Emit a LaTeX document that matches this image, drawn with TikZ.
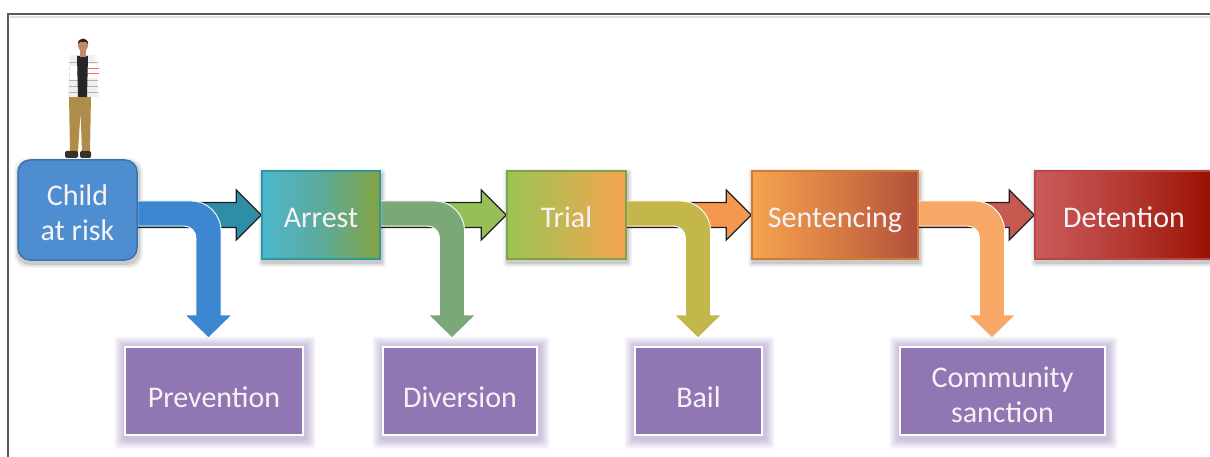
\documentclass[tikz,border=0pt]{standalone}
\usepackage{fontspec}
\setmainfont{Carlito}
\usetikzlibrary{calc}
\pgfdeclarelayer{bg}
\pgfdeclarelayer{arr}
\pgfsetlayers{bg,arr,main}
\definecolor{childfill}{HTML}{4E8DCF}
\definecolor{childedge}{HTML}{3B72B0}
\definecolor{txt}{HTML}{F6F2F6}
\definecolor{purp}{HTML}{9077B3}
\definecolor{glow}{HTML}{B9A9D3}
\definecolor{frame}{HTML}{5A5A5A}
\definecolor{darkedge}{HTML}{1E2020}
\definecolor{sA}{HTML}{2E8EA6}
\definecolor{sB}{HTML}{97BF57}
\definecolor{sC}{HTML}{F4984F}
\definecolor{sD}{HTML}{C65A50}
\definecolor{cA}{HTML}{3D86D0}
\definecolor{cB}{HTML}{7BA879}
\definecolor{cC}{HTML}{C3B74C}
\definecolor{cD}{HTML}{F8A866}
\definecolor{arL}{HTML}{4DB7CE}
\definecolor{arM}{HTML}{5CAA9C}
\definecolor{arR}{HTML}{84A33F}
\definecolor{arE}{HTML}{2D979D}
\definecolor{trL}{HTML}{9CC355}
\definecolor{trM}{HTML}{C8B552}
\definecolor{trR}{HTML}{F5A24F}
\definecolor{trE}{HTML}{7FA24A}
\definecolor{seL}{HTML}{F6A352}
\definecolor{seM}{HTML}{D67D44}
\definecolor{seR}{HTML}{B24F3A}
\definecolor{seE}{HTML}{D07A34}
\definecolor{deL}{HTML}{CA5C5A}
\definecolor{deM}{HTML}{B43A33}
\definecolor{deR}{HTML}{9A1000}
\definecolor{deE}{HTML}{B84646}
\definecolor{khaki}{HTML}{B08C4A}
\definecolor{skin}{HTML}{C08A68}
\definecolor{hair}{HTML}{2E2420}
\definecolor{shoe}{HTML}{3A3028}

% straight block arrow from node #1 to node #2
\newcommand{\flowarr}[3]{%
  \coordinate (fs-#1) at (#1.east |- #2.west);
  \filldraw[fill=#3, draw=darkedge, line width=1.3pt, line join=miter]
    ($(fs-#1)+(0,-12.5)$) -- ($(#2.west)+(-25,-12.5)$) -- ($(#2.west)+(-25,-25)$)
    -- (#2.west) -- ($(#2.west)+(-25,25)$) -- ($(#2.west)+(-25,12.5)$)
    -- ($(fs-#1)+(0,12.5)$) -- cycle;}

% bent arrow from node #1 down, shaft centre x = #2
\newcommand{\branchto}[3]{%
  \coordinate (bs-#1) at (#1.east |- 0,201);
  \coordinate (be-#1) at (#1.east |- 0,226);
  \filldraw[fill=#3, draw=white, line width=0.9pt, line join=round]
    (bs-#1) -- (#2-17.5,201) .. controls (#2-0.93,201) and (#2+12.5,214.43) .. (#2+12.5,231)
    -- (#2+12.5,315) -- (#2+23.5,315) -- (#2,338) -- (#2-23.5,315) -- (#2-12.5,315)
    -- (#2-12.5,238) .. controls (#2-12.5,231.37) and (#2-17.87,226) .. (#2-24.5,226)
    -- (be-#1) -- cycle;}

\newcommand{\glowbox}[1]{%
  \foreach \e/\o in {11/0.16,9/0.18,7/0.2,5/0.24,3/0.3}{
    \fill[glow, opacity=\o, rounded corners=3pt]
      ($(#1.north west)+(-\e+2,-\e+2)$) rectangle ($(#1.south east)+(\e,\e+1)$);
  }}

\newcommand{\softshadow}[2]{%
  \foreach \e/\o in {4/0.05,2.5/0.07,1/0.09}{
    \fill[black, opacity=\o, rounded corners=#2]
      ($(#1.north west)+(-\e+1,-\e+3)$) rectangle ($(#1.south east)+(\e+1,\e+3)$);
  }}

\begin{document}
\begin{tikzpicture}[x=1pt,y=-1pt,
  box/.style={draw, line width=1.5pt, minimum height=88pt, inner sep=0pt},
  ltext/.style={text=txt, font=\fontsize{30}{35}\selectfont, align=center, inner sep=0pt},
  pbox/.style={fill=purp, draw=white, line width=2.5pt, minimum height=88pt, inner sep=0pt},
  ptext/.style={text=txt, font=\fontsize{30}{35}\selectfont, align=center, inner sep=0pt}]

\useasboundingbox (0,0) rectangle (1210,457);
\clip (0,0) rectangle (1210,457);

\begin{pgfonlayer}{bg}
  \fill[white] (0,0) rectangle (1210,457);
  \draw[black!12, line width=2pt] (10,17) -- (1230,17);
  \draw[frame, line width=1.3pt] (8,14) rectangle (1240,480);
\end{pgfonlayer}

% main boxes
\node[box, rounded corners=12pt, fill=childfill, draw=childedge,
      minimum width=119pt, minimum height=100pt] (child) at (77.5,210) {};
\node[ltext] (childT) at ([yshift=-2.5pt]child.center) {Child\\at risk};
\node[box, left color=arL, right color=arR, middle color=arM, draw=arE,
      minimum width=118pt] (arrest) at (321,215) {};
\node[ltext, anchor=base] (arrestT) at (arrest.center |- 0,228) {Arrest};
\node[box, left color=trL, right color=trR, middle color=trM, draw=trE,
      minimum width=119pt] (trial) at (566.5,215) {};
\node[ltext, anchor=base] (trialT) at (trial.center |- 0,228) {Trial};
\node[box, left color=seL, right color=seR, middle color=seM, draw=seE,
      minimum width=166pt] (sent) at (835,215) {};
\node[ltext, anchor=base] (sentT) at (sent.center |- 0,228) {Sentencing};
\node[box, left color=deL, right color=deR, middle color=deM, draw=deE,
      minimum width=178pt] (det) at (1124,215) {};
\node[ltext, anchor=base] (detT) at (det.center |- 0,228) {Detention};

% purple outcome boxes
\node[pbox, minimum width=178pt] (prev) at (214,391) {};
\node[ptext] (prevT) at ([yshift=-6pt]prev.center) {Prevention};
\node[pbox, minimum width=154pt] (div) at (460,391) {};
\node[ptext] (divT) at ([yshift=-6pt]div.center) {Diversion};
\node[pbox, minimum width=127pt] (bail) at (698.5,391) {};
\node[ptext] (bailT) at ([yshift=-6pt]bail.center) {Bail};
\node[pbox, minimum width=205pt] (comm) at (1002.5,391) {};
\node[ptext] (commT) at ([yshift=-4pt]comm.center) {Community\\sanction};

\begin{pgfonlayer}{bg}
  \glowbox{prev}\glowbox{div}\glowbox{bail}\glowbox{comm}
  \softshadow{child}{12pt}\softshadow{arrest}{2pt}\softshadow{trial}{2pt}
  \softshadow{sent}{2pt}\softshadow{det}{2pt}
\end{pgfonlayer}

\begin{pgfonlayer}{arr}
  \flowarr{child}{arrest}{sA}
  \flowarr{arrest}{trial}{sB}
  \flowarr{trial}{sent}{sC}
  \flowarr{sent}{det}{sD}
  \branchto{child}{208.5}{cA}
  \branchto{arrest}{452}{cB}
  \branchto{trial}{698}{cC}
  \branchto{sent}{992}{cD}
\end{pgfonlayer}

% the child standing on the box
\fill[khaki] (69,95) -- (91,95) -- (90,152) -- (82,152) -- (80.5,112) -- (78,152) -- (70,152) -- cycle;
\fill[shoe, rounded corners=1.5pt] (65,151) rectangle (78,158);
\fill[shoe, rounded corners=1.5pt] (80,151) rectangle (91,158);
\fill[black!6] (70,55) -- (95,55) -- (99,97) -- (68,97) -- cycle;
\foreach \yy in {62,68,74,80,86,92}{
  \draw[black!30, line width=0.8pt] (69,\yy) -- (98,\yy);
}
\fill[black!85] (77,56) -- (88,56) -- (87,97) -- (78,97) -- cycle;
\fill[white] (70,66) rectangle (77,80);
\fill[white] (88,64) rectangle (99,78);
\draw[red!60, line width=0.7pt] (88,68) -- (99,68) (88,73) -- (99,73);
\fill[skin] (80,50) rectangle (86,57);
\fill[skin] (83,45) ellipse (5 and 6.5);
\fill[hair] (77.8,44) .. controls (78,37) and (88,37) .. (88.2,44) -- (86,42) -- (80,42) -- cycle;

\end{tikzpicture}
\end{document}
